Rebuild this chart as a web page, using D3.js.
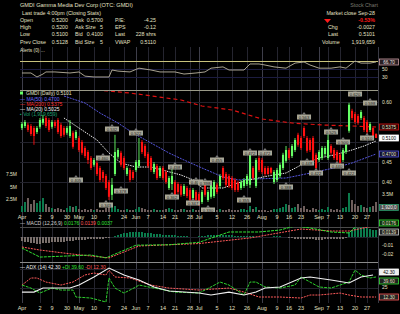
<!DOCTYPE html>
<html><head><meta charset="utf-8">
<script src="https://cdn.jsdelivr.net/npm/d3@7/dist/d3.min.js"></script>
<style>
html,body{margin:0;padding:0;background:#000;overflow:hidden;}
svg{display:block;font-family:"Liberation Sans",Arial,sans-serif;}
</style></head><body>
<svg id="chart" width="400" height="314"></svg>
<script>
// ---------------- DATA ----------------
const opens = [.535,.540,.543,.540,.535,.525,.538,.548,.560,.555,
.538,.550,.555,.543,.535,.523,.515,.523,.510,.510,
.500,.485,.475,.460,.443,.448,.435,.425,.415,.400,
.368,.420,.463,.473,.460,.420,.430,.425,.430,.440,
.500,.490,.470,.460,.425,.440,.415,.435,.425,.385,
.395,.400,.395,.390,.370,.385,.380,.360,.375,.370,
.350,.393,.355,.363,.365,.393,.390,.435,.420,.415,
.410,.405,.398,.385,.390,.395,.393,.435,.390,.460,
.455,.435,.435,.435,.400,.405,.415,.435,.453,.480,
.465,.480,.518,.510,.535,.510,.505,.510,.468,.455,
.460,.470,.460,.490,.480,.475,.468,.455,.475,.528,
.578,.570,.565,.560,.560,.550,.530,.535,.520];
const closes = [.545,.550,.530,.520,.515,.535,.555,.558,.540,.530,
.550,.540,.525,.515,.518,.535,.540,.488,.525,.480,
.473,.465,.455,.435,.455,.420,.405,.410,.385,.363,
.393,.475,.480,.443,.435,.435,.405,.410,.450,.455,
.475,.465,.440,.430,.445,.410,.435,.410,.400,.410,
.415,.368,.375,.368,.390,.365,.355,.380,.355,.345,
.375,.368,.375,.393,.400,.375,.415,.410,.393,.390,
.385,.380,.380,.400,.405,.415,.468,.410,.455,.430,
.425,.420,.420,.423,.425,.430,.443,.468,.480,.460,
.490,.505,.493,.485,.515,.478,.480,.453,.435,.475,
.485,.485,.505,.473,.460,.455,.448,.480,.493,.593,
.560,.550,.548,.575,.530,.525,.545,.513,.510];
const highs = [.550,.555,.548,.545,.540,.540,.560,.568,.565,.560,
.555,.555,.560,.548,.540,.540,.555,.528,.530,.515,
.505,.490,.480,.465,.460,.453,.440,.430,.420,.405,
.410,.518,.485,.478,.465,.440,.435,.430,.455,.510,
.505,.495,.475,.465,.450,.445,.440,.440,.430,.415,
.435,.405,.400,.395,.395,.390,.385,.385,.380,.375,
.380,.398,.380,.398,.405,.398,.420,.440,.425,.420,
.415,.410,.403,.405,.410,.420,.478,.440,.460,.465,
.460,.440,.440,.438,.430,.435,.448,.473,.490,.485,
.495,.510,.523,.515,.540,.515,.510,.515,.473,.480,
.490,.490,.530,.495,.485,.480,.473,.485,.498,.598,
.583,.575,.570,.580,.565,.555,.550,.540,.522];
const lows = [.530,.535,.525,.515,.493,.520,.533,.543,.535,.525,
.533,.535,.520,.510,.513,.518,.510,.483,.505,.475,
.468,.460,.445,.430,.438,.415,.400,.400,.380,.355,
.355,.415,.458,.438,.430,.415,.400,.405,.425,.435,
.470,.460,.435,.425,.420,.405,.410,.405,.395,.380,
.380,.360,.370,.363,.365,.360,.350,.355,.350,.340,
.345,.363,.350,.358,.360,.370,.385,.405,.388,.385,
.380,.375,.375,.380,.385,.390,.385,.405,.385,.425,
.420,.415,.418,.418,.395,.400,.410,.430,.448,.455,
.460,.475,.488,.480,.510,.473,.475,.448,.430,.450,
.455,.465,.455,.468,.455,.450,.443,.450,.470,.523,
.555,.545,.543,.555,.525,.520,.525,.508,.510];
// volume in thousands of shares
const volumes = [1200,2000,2800,1600,2400,1800,2200,2800,1600,1000,
800,600,800,600,400,800,1200,1000,1200,600,
400,600,400,600,400,600,400,400,800,1000,
1400,1200,600,400,400,600,400,400,600,1000,
800,600,400,400,600,400,400,400,600,800,
600,400,400,600,600,400,400,600,400,400,
600,400,400,600,600,400,600,400,400,600,
400,400,400,600,600,400,1200,600,1000,400,
400,400,200,400,600,600,800,1000,1600,1400,
800,1000,1600,800,1200,600,400,800,600,400,
600,400,1000,600,400,600,400,800,1000,3800,
2400,1600,1200,1400,1000,800,1000,1200,1920];

// moving averages (day index, value)
const ma20Days = [14,20,25,29,33,38,43,48,53,58,60,67,74,82,88,93,99,104,110,114,118];
const ma20Vals = [.56,.53,.505,.4725,.4475,.4375,.4375,.4275,.4175,.4025,.385,.385,.4025,.415,.4225,.4425,.46,.4675,.48,.49,.5025];
const ma50Days = [14,21,26,32,37,43,49,54,60,67,72,77,88,93,104,110,118];
const ma50Vals = [.615,.5975,.5725,.5475,.5225,.4975,.4725,.455,.435,.4125,.405,.4075,.41,.4175,.435,.4475,.47];
const ma200Days = [25,36,53,60,70,80,90,100,110,118];
const ma200Vals = [.63,.6225,.605,.59,.58,.5575,.5475,.5425,.54,.5375];

// RSI (top panel)
const rsiDays = [0,3,5,7,8,11,16,19,21,24,29,30,32,36,39,43,46,51,54,58,61,63,67,69,74,76,79,81,84,88,91,94,96,99,103,106,108,111,113,116,118];
const rsiVals = [40.5,40.5,31,38,43,43,40.5,43,33,31,31,47.6,45,43,52,47.6,43,43,38,40.5,43,52,55,47.6,47.6,62,62,59.5,55,52,64,66.7,59.5,52,52,55,52,69,64,64,66.7];

// MACD panel
const macdDays = [0,6,23,28,38,49,59,69,79,86,91,96,103,109,111,117];
const macdVals = [-0.013,-0.024,-0.0215,-0.025,-0.0095,-0.009,-0.006,0.0066,0.0066,0.009,0.0139,0.0115,0.0066,0.0054,0.0127,0.0176];
const sigDays = [0,6,16,29,39,49,59,76,93,103,109,117];
const sigVals = [-0.0117,-0.0154,-0.020,-0.025,-0.0105,-0.009,-0.0075,-0.0007,0.0102,0.0078,0.0078,0.0139];
const histVals = [-0.004,-0.005,-0.006,-0.007,-0.007,-0.0075,-0.0075,
-0.007,-0.007,-0.0065,-0.006,-0.006,-0.0055,-0.005,
-0.005,-0.0045,-0.004,-0.004,-0.0035,-0.0035,-0.003,
-0.003,-0.0025,-0.0025,-0.002,-0.002,-0.0015,-0.0015,-0.001,-0.001,
0.001,0.002,0.003,0.004,0.005,0.0055,0.006,0.0065,0.0065,0.0065,0.006,
0.0055,0.005,0.005,0.0045,0.004,0.004,0.0035,0.003,0.003,0.0025,
0.0025,0.002,0.002,0.0015,0.0015,0.001,0.001,0.001,0.0015,0.002,
0.002,0.0025,0.003,0.003,0.0035,0.0035,0.003,0.003,0.0025,0.0025,
0.002,0.002,0.0015,0.0015,0.002,0.002,0.0015,0.001,0.001,0.0005,
0.0005,0.001,0.001,0.0015,0.002,0.002,0.001,0,-0.0005,-0.001,
-0.0015,-0.0015,-0.002,-0.002,-0.0025,-0.0025,-0.0025,-0.003,-0.003,-0.003,
-0.0025,-0.0025,-0.002,-0.002,-0.002,-0.0015,-0.0015,-0.001,0.006,0.009,
0.011,0.012,0.013,0.012,0.011,0.01,0.009,0.0085];

// ADX / DMI (bottom panel)
const adxDays = [0,4,7,16,19,24,29,34,39,44,49,59,63,69,74,78,81,86,93,96,103,109,113,117];
const adxVals = [19,19,24.5,24.5,28.6,39.6,51.8,42.3,35.5,26,20.5,17.7,15,19,15,19,24.5,26,38.2,39.6,35.5,31.4,39.6,42.3];
const pdiDays = [0,3,6,10,13,17,18,23,28,29,31,34,38,39,44,51,59,63,66,69,74,76,78,81,86,91,93,96,99,103,106,109,111,113,116,118];
const pdiVals = [28.6,24.5,17.7,24.5,21.8,21.8,12.3,10.9,5.5,38.2,24.5,17.7,26,28.6,24.5,19,17.7,26,32.7,28.6,15,32.7,32.7,26,24.5,28.6,39.6,32.7,26,24.5,28.6,32.7,49,42.3,38.2,39.6];
const mdiDays = [0,3,5,8,13,17,21,24,28,29,31,36,43,49,59,69,74,79,86,93,96,99,106,109,113,118];
const mdiVals = [28.6,38.2,38.2,32.7,28.6,32.7,42.3,45,42.3,49,39.6,38.2,28.6,24.5,21.8,24.5,19,12.3,12.3,10.9,15,15,17.7,15,12.3,12.3];

// annotation markers on the price chart
const annDays = [18,27,30,38,33,51,50,58,61,65,76,81,88,94,95,98,103,105,107,109,111,115,116,28,57,62,74];
const annPrices = [.405,.46,.5325,.5225,.3775,.4375,.3625,.40,.3975,.455,.4725,.4725,.3875,.5625,.4475,.4225,.525,.44,.50,.4225,.62,.51,.5975,.3425,.3475,.33,.355];

// x-axis ticks
const tickLabels = ["Apr","2","9","30","May","10","7","24","Jun","7","14","21","28","Jul","5","12","26","Aug","9","16","23","Sep","7","13","20","27"];
const tickDays = [0,6,10,15,19,24,29,34,38,42,47,51,56,59,65,70,75,80,85,89,93,99,102,106,111,115];
const priceTicks = [0.40,0.45,0.50,0.55,0.60];
const volTicks = [2500,5000,7500];
const rsiTicks = [30,50];
const macdTicks = [-0.01,-0.02];
const dmiTicks = [25,50];

// ---------------- DRAW ----------------
const svg = d3.select('#chart');
const BEIGE = '#e4e0c4';
svg.append('rect').attr('width',400).attr('height',314).attr('fill','#000');

const N = opens.length;
const X0 = 20, X1 = 378;
const x = d3.scaleBand().domain(d3.range(N)).range([X0, X1]).padding(0.3);
const xc = i => x(i) + x.bandwidth()/2;

const yR = d3.scaleLinear().domain([0,100]).range([90,48]);
const yP = d3.scaleLinear().domain([0.325,0.63]).range([212,90]);
const yV = d3.scaleLinear().domain([0,8000]).range([212,172]);
const yM = d3.scaleLinear().domain([-0.03,0.02]).range([262,221]);
const yD = d3.scaleLinear().domain([5.5,60]).range([302,262]);

const defs = svg.append('defs');
function clip(id,y0,y1){ defs.append('clipPath').attr('id',id).append('rect').attr('x',X0).attr('y',y0).attr('width',X1-X0).attr('height',y1-y0); }
clip('cR',48,90); clip('cP',91,212); clip('cM',227,262); clip('cD',263,303);

// grid
const grid = svg.append('g').attr('shape-rendering','crispEdges');
tickDays.forEach((d,k)=>{
  const month = isNaN(+tickLabels[k]);
  grid.append('line').attr('x1',Math.round(xc(d))+0.5).attr('x2',Math.round(xc(d))+0.5)
    .attr('y1',47).attr('y2',303).attr('stroke', month ? '#3e3e4a' : '#25252f');
});
grid.append('line').attr('x1',X1+0.5).attr('x2',X1+0.5).attr('y1',47).attr('y2',303).attr('stroke','#3a3a44');
const hline = (y,c)=>grid.append('line').attr('x1',X0).attr('x2',X1).attr('y1',Math.round(y)+0.5).attr('y2',Math.round(y)+0.5).attr('stroke',c);
priceTicks.forEach(p=>hline(yP(p),'#22222c'));
rsiTicks.forEach(v=>hline(yR(v),'#1c1c40'));
dmiTicks.forEach(v=>hline(yD(v),'#22222c'));
hline(yM(0),'#22222c');
hline(90,'#9a9a88');
hline(227,'#4a4a4a');
hline(262,'#8a8a8a');
grid.append('line').attr('x1',X0).attr('x2',X1).attr('y1',Math.round(yR(70))+0.5).attr('y2',Math.round(yR(70))+0.5).attr('stroke','#c8c27c');

// RSI line
const pairs = (ds,vs)=>ds.map((d,k)=>[d,vs[k]]);
svg.append('path').attr('clip-path','url(#cR)')
  .attr('d', d3.line().x(d=>xc(d[0])).y(d=>yR(d[1]))(pairs(rsiDays,rsiVals)))
  .attr('fill','none').attr('stroke','#a8a290').attr('stroke-width',1);

// Volume
const up = i => closes[i] >= opens[i];
svg.append('g').attr('clip-path','url(#cP)').attr('shape-rendering','crispEdges')
  .selectAll('rect').data(d3.range(N)).join('rect')
  .attr('x',i=>x(i)-0.3).attr('width',x.bandwidth()+0.6)
  .attr('y',i=>yV(volumes[i])).attr('height',i=>yV(0)-yV(volumes[i]))
  .attr('fill',i=> up(i) ? '#0b7a4c' : '#6e5e5c');

// Moving averages
const mline = d3.line().x(d=>xc(d[0])).y(d=>yP(d[1]));
const maG = svg.append('g').attr('clip-path','url(#cP)');
maG.append('path').attr('d',mline(pairs(ma200Days,ma200Vals))).attr('fill','none').attr('stroke','#e01212').attr('stroke-width',1.2).attr('stroke-dasharray','4,3');
maG.append('path').attr('d',mline(pairs(ma50Days,ma50Vals))).attr('fill','none').attr('stroke','#5656e0').attr('stroke-width',1).attr('stroke-dasharray','2,1');
maG.append('path').attr('d',mline(pairs(ma20Days,ma20Vals))).attr('fill','none').attr('stroke','#ececec').attr('stroke-width',1).attr('stroke-dasharray','1.5,1');

// Candles
const cg = svg.append('g').attr('clip-path','url(#cP)');
const candle = cg.selectAll('g').data(d3.range(N)).join('g');
candle.append('line').attr('x1',xc).attr('x2',xc)
  .attr('y1',i=>yP(highs[i])).attr('y2',i=>yP(lows[i]))
  .attr('stroke',i=>up(i)?'#66ff66':'#ff1010').attr('stroke-width',0.9);
candle.append('rect').attr('x',i=>x(i)).attr('width',x.bandwidth())
  .attr('y',i=>yP(Math.max(opens[i],closes[i])))
  .attr('height',i=>Math.max(1,yP(Math.min(opens[i],closes[i]))-yP(Math.max(opens[i],closes[i]))))
  .attr('fill',i=>up(i)?'#66ff66':'#ff1010');

// Annotation markers
const ann = svg.append('g').attr('clip-path','url(#cP)');
annDays.forEach((d,k)=>{
  const cx = xc(d), cy = yP(annPrices[k]);
  ann.append('path').attr('d',`M${cx-2},${cy-2.5}L${cx},${cy-5}L${cx+2},${cy-2.5}Z`).attr('fill','#777');
  ann.append('rect').attr('x',cx-7).attr('y',cy-2.5).attr('width',14).attr('height',5).attr('fill','#a9a797');
  ann.append('text').attr('x',cx).attr('y',cy+1.6).attr('text-anchor','middle').attr('font-size',4.2).attr('fill','#1a1a1a')
    .text(annPrices[k].toFixed(3));
});

// MACD panel
const mg = svg.append('g').attr('clip-path','url(#cM)');
mg.selectAll('rect').data(d3.range(N)).join('rect').attr('shape-rendering','crispEdges')
  .attr('x',i=>x(i)-0.3).attr('width',x.bandwidth()+0.6)
  .attr('y',i=>Math.min(yM(0),yM(histVals[i]))).attr('height',i=>Math.abs(yM(histVals[i])-yM(0)))
  .attr('fill',i=>histVals[i]>=0?'#0b7a4c':'#7a706c');
const lm = d3.line().x(d=>xc(d[0])).y(d=>yM(d[1]));
mg.append('path').attr('d',lm(pairs(sigDays,sigVals))).attr('fill','none').attr('stroke','#ff5a5a').attr('stroke-width',1).attr('stroke-dasharray','2,1');
mg.append('path').attr('d',lm(pairs(macdDays,macdVals))).attr('fill','none').attr('stroke','#33e033').attr('stroke-width',1).attr('stroke-dasharray','3,1');

// DMI panel
const dg = svg.append('g').attr('clip-path','url(#cD)');
const ld = d3.line().x(d=>xc(d[0])).y(d=>yD(d[1]));
dg.append('path').attr('d',ld(pairs(mdiDays,mdiVals))).attr('fill','none').attr('stroke','#ff5a5a').attr('stroke-width',1).attr('stroke-dasharray','2,1');
dg.append('path').attr('d',ld(pairs(pdiDays,pdiVals))).attr('fill','none').attr('stroke','#2ed02e').attr('stroke-width',1).attr('stroke-dasharray','3,1');
dg.append('path').attr('d',ld(pairs(adxDays,adxVals))).attr('fill','none').attr('stroke','#f0f0f0').attr('stroke-width',1.1);

// X axis labels
[219, 310].forEach(yy=>{
  svg.append('g').selectAll('text').data(tickDays).join('text')
    .attr('x',d=>xc(d)).attr('y',yy).attr('text-anchor','middle')
    .attr('font-size',5.5).attr('fill',BEIGE).text((d,k)=>tickLabels[k]);
});

// Right-side value boxes (drawn first so tick labels can avoid them)
const boxYs = [];
function vbox(y,t,stroke,fill,tc){
  boxYs.push(y);
  const g = svg.append('g');
  g.append('rect').attr('x',379.5).attr('y',y-3).attr('width',19).attr('height',6).attr('fill',fill).attr('stroke',stroke).attr('stroke-width',0.8);
  g.append('text').attr('x',389).attr('y',y+1.8).attr('text-anchor','middle').attr('font-size',4.6).attr('fill',tc).text(t);
}
const L = N-1;
vbox(yR(rsiVals[rsiVals.length-1]),rsiVals[rsiVals.length-1].toFixed(2),'#c89aa0','#2a2024','#f0e0e0');
vbox(yP(ma200Vals[ma200Vals.length-1]),ma200Vals[ma200Vals.length-1].toFixed(4),'#e01212','#200808',BEIGE);
vbox(yP(closes[L]),closes[L].toFixed(4),'#ffffff','#ffffff','#000');
vbox(yP(ma50Vals[ma50Vals.length-1]),ma50Vals[ma50Vals.length-1].toFixed(4),'#5656e0','#101030',BEIGE);
vbox(yV(volumes[L])+5,d3.format(',')(volumes[L]*1000).slice(0,7),'#2a9a6a','#555','#eee');
vbox(yM(macdVals[macdVals.length-1]),macdVals[macdVals.length-1].toFixed(4),'#33e033','#103010',BEIGE);
vbox(yM(sigVals[sigVals.length-1])+6,sigVals[sigVals.length-1].toFixed(4),'#cccccc','#222',BEIGE);
vbox(yD(adxVals[adxVals.length-1])-3,adxVals[adxVals.length-1].toFixed(2),'#ffffff','#eee','#000');
vbox(yD(pdiVals[pdiVals.length-1])+4,pdiVals[pdiVals.length-1].toFixed(2),'#33e033','#222',BEIGE);
vbox(yD(mdiVals[mdiVals.length-1]),mdiVals[mdiVals.length-1].toFixed(2),'#ff5a5a','#222',BEIGE);

// Right axis tick labels (skipped where a value box sits)
const ra = svg.append('g').attr('font-size',5).attr('fill',BEIGE);
const rlab = (y,t)=>{ if (boxYs.every(b=>Math.abs(b-y)>=6)) ra.append('text').attr('x',382).attr('y',y+1.8).text(t); };
priceTicks.forEach(p=>rlab(yP(p),p.toFixed(2)));
rsiTicks.forEach(v=>rlab(yR(v),v));
macdTicks.forEach(v=>rlab(yM(v),v.toFixed(2)));
dmiTicks.forEach(v=>rlab(yD(v),v));
rlab(yV(3500),'3.5M');
svg.append('g').selectAll('text').data(volTicks).join('text')
  .attr('x',17).attr('y',v=>yV(v)+1.8).attr('text-anchor','end').attr('font-size',5).attr('fill',BEIGE)
  .text(v=>(v/1000)+'M');

// Legends
const lg = svg.append('g').attr('font-size',5);
lg.append('rect').attr('x',20).attr('y',91.5).attr('width',3).attr('height',3).attr('fill','#66ff66');
lg.append('text').attr('x',26).attr('y',95).attr('fill',BEIGE).text('GMDI (Daily) 0.5101');
lg.append('text').attr('x',20).attr('y',100.5).attr('fill','#6a6aff').text('— MA(50) 0.4700');
lg.append('text').attr('x',20).attr('y',105.5).attr('fill','#ff3030').text('— MA(200) 0.5375');
lg.append('text').attr('x',20).attr('y',110.5).attr('fill','#f0f0f0').text('— MA(20) 0.5025');
lg.append('text').attr('x',20).attr('y',115.5).attr('fill','#1aa070').text('▪ Vol (1,919,659)');
const ml = lg.append('text').attr('x',20).attr('y',225);
ml.append('tspan').attr('fill','#cfcfcf').text('— MACD (12,26,9) ');
ml.append('tspan').attr('fill','#33e033').text('0.0176 ');
ml.append('tspan').attr('fill','#ff5a5a').text('0.0139 ');
ml.append('tspan').attr('fill','#33e033').text('0.0037');
const dl = lg.append('text').attr('x',20).attr('y',269);
dl.append('tspan').attr('fill','#f0f0f0').text('— ADX (14) 42.30 ');
dl.append('tspan').attr('fill','#33e033').text('+DI 39.60 ');
dl.append('tspan').attr('fill','#ff5a5a').text('-DI 12.30');

// Header
const hd = svg.append('g').attr('font-size',5.3).attr('fill',BEIGE);
hd.append('text').attr('x',20).attr('y',7).attr('font-size',5.6).text('GMDI  Gamma Media Dev Corp (OTC: GMDI)');
hd.append('text').attr('x',22).attr('y',15).text('Last trade 4:00pm (Closing Stats)');
const rows = [
  ['Open','0.5200','Ask','0.5700','P/E:','-4.25'],
  ['High','0.5200','Ask Size','5','EPS','-0.12'],
  ['Low','0.5100','Bid','0.4100','Last','228 shrs'],
  ['Prev Close','0.5128','Bid Size','5','VWAP','0.5110']
];
const rowY = [22,29,36,44];
rows.forEach((r,k)=>{
  hd.append('text').attr('x',20).attr('y',rowY[k]).text(r[0]);
  hd.append('text').attr('x',68).attr('y',rowY[k]).attr('text-anchor','end').text(r[1]);
  hd.append('text').attr('x',75).attr('y',rowY[k]).text(r[2]);
  hd.append('text').attr('x',103).attr('y',rowY[k]).attr('text-anchor','end').text(r[3]);
  hd.append('text').attr('x',115).attr('y',rowY[k]).text(r[4]);
  hd.append('text').attr('x',156).attr('y',rowY[k]).attr('text-anchor','end').text(r[5]);
});
hd.append('text').attr('x',20).attr('y',51.5).attr('font-size',4.8).text('Alerts (0) ...');
hd.append('text').attr('x',378).attr('y',7).attr('text-anchor','end').attr('fill','#7a7a70').attr('font-size',5.3).text('Stock Chart');
hd.append('text').attr('x',375).attr('y',15).attr('text-anchor','end').text('Market close Sep-28');
hd.append('path').attr('d','M324,19L331,19L327.5,23Z').attr('fill','#ff1a1a');
hd.append('text').attr('x',375).attr('y',22).attr('text-anchor','end').attr('fill','#ff1a1a').attr('font-weight','bold').text('-0.53%');
[['Chg','-0.0027',29],['Last','0.5101',36],['Volume','1,919,659',44]].forEach(r=>{
  hd.append('text').attr('x',r[0]==='Volume'?322:328).attr('y',r[2]).text(r[0]);
  hd.append('text').attr('x',375).attr('y',r[2]).attr('text-anchor','end').text(r[1]);
});
</script>
</body></html>
